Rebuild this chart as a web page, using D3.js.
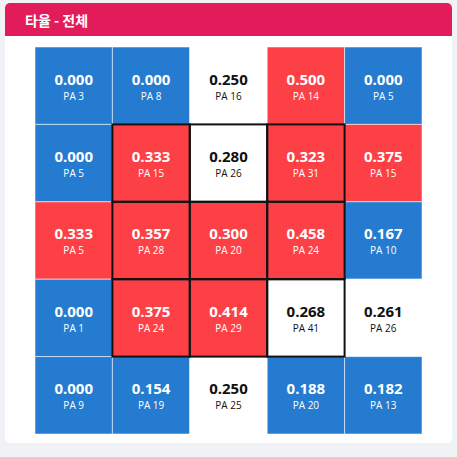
<!DOCTYPE html>
<html>
<head>
<meta charset="utf-8">
<script src="https://cdn.jsdelivr.net/npm/d3@7"></script>
<style>
  html, body { margin: 0; padding: 0; background: #f0f2f5; }
  svg { display: block; }
</style>
</head>
<body>
<div id="chart"></div>
<script>
'use strict';

// zone grid, row by row from the top
const rows = [0, 1, 2, 3, 4];
const cols = [0, 1, 2, 3, 4];
const avgValues = [
  [0.000, 0.000, 0.250, 0.500, 0.000],
  [0.000, 0.333, 0.280, 0.323, 0.375],
  [0.333, 0.357, 0.300, 0.458, 0.167],
  [0.000, 0.375, 0.414, 0.268, 0.261],
  [0.000, 0.154, 0.250, 0.188, 0.182],
];
const paValues = [
  [3, 8, 16, 14, 5],
  [5, 15, 26, 31, 15],
  [5, 28, 20, 24, 10],
  [1, 24, 29, 41, 26],
  [9, 19, 25, 20, 13],
];
const title = '타율 - 전체';

const width = 457, height = 457;
const grid = {left: 35, right: 422, top: 47, bottom: 434};

const svg = d3.select('#chart')
              .append('svg')
                .attr('width', width)
                .attr('height', height);

// card with header
svg.append('rect')
   .attr('x', 5).attr('y', 3)
   .attr('width', 447).attr('height', 440)
   .attr('rx', 5)
   .attr('fill', 'white');
svg.append('path')
   .attr('d', 'M5,36 V8 a5,5 0 0 1 5,-5 H447 a5,5 0 0 1 5,5 V36 Z')
   .attr('fill', '#e21b5a');
svg.append('text')
   .attr('x', 25).attr('y', 26)
   .attr('fill', 'white')
   .attr('font-family', '"Noto Sans CJK KR", "Noto Sans", sans-serif')
   .attr('font-weight', 'bold')
   .attr('font-size', 14)
   .text(title);

const x = d3.scaleBand().domain(cols).range([grid.left, grid.right]);
const y = d3.scaleBand().domain(rows).range([grid.top, grid.bottom]);
const color = d3.scaleThreshold()
                .domain([0.2, 0.3])
                .range(['#247bd0', '#ffffff', '#fd4046']);

const cells = [];
rows.forEach(r => cols.forEach(c => {
  cells.push({
    row: r, col: c,
    avg: avgValues[r][c],
    pa: paValues[r][c],
    inZone: r >= 1 && r <= 3 && c >= 1 && c <= 3,
  });
}));

const g = svg.append('g');
const cell = g.selectAll('g.cell')
              .data(cells)
              .enter().append('g')
                .attr('class', 'cell')
                .attr('transform', d => 'translate(' + x(d.col) + ',' + y(d.row) + ')');

cell.append('rect')
    .attr('width', x.bandwidth())
    .attr('height', y.bandwidth())
    .attr('fill', d => color(d.avg))
    .attr('stroke', 'rgba(255,255,255,0.55)')
    .attr('stroke-width', 1);

// strike zone outline drawn on top
g.selectAll('rect.zone')
 .data(cells.filter(d => d.inZone))
 .enter().append('rect')
   .attr('class', 'zone')
   .attr('x', d => x(d.col))
   .attr('y', d => y(d.row))
   .attr('width', x.bandwidth())
   .attr('height', y.bandwidth())
   .attr('fill', 'none')
   .attr('stroke', '#111')
   .attr('stroke-width', 2);

const textColor = d => color(d.avg) === '#ffffff' ? '#111' : 'white';

cell.append('text')
    .attr('x', x.bandwidth() / 2)
    .attr('y', y.bandwidth() / 2 - 1)
    .attr('text-anchor', 'middle')
    .attr('font-family', '"Open Sans", sans-serif')
    .attr('font-weight', 'bold')
    .attr('font-size', 15)
    .attr('fill', textColor)
    .text(d => d.avg.toFixed(3));

cell.append('text')
    .attr('x', x.bandwidth() / 2)
    .attr('y', y.bandwidth() / 2 + 14)
    .attr('text-anchor', 'middle')
    .attr('font-family', '"Open Sans", sans-serif')
    .attr('font-size', 10)
    .attr('fill', textColor)
    .text(d => 'PA ' + d.pa);
</script>
</body>
</html>
